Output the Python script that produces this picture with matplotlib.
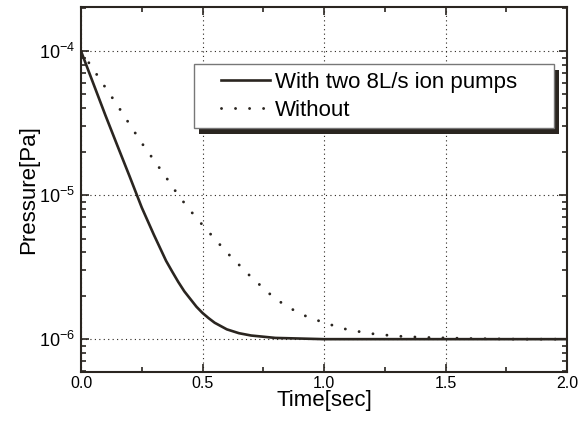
"""
Pressure decay with and without ion pumps, log scale.
"""

from matplotlib import pyplot
from matplotlib import patches
from matplotlib import ticker

# Solid curve: with two 8 L/s ion pumps
time_pumps = [0.0, 0.05, 0.1, 0.15, 0.2, 0.25, 0.3, 0.35, 0.375, 0.4, 0.425,
              0.45, 0.475, 0.5, 0.525, 0.55, 0.6, 0.65, 0.7, 0.75, 0.8, 0.9,
              1.0, 1.5, 2.0]
pressure_pumps = [1.0e-4, 6.0e-5, 3.6e-5, 2.2e-5, 1.35e-5, 8.2e-6, 5.3e-6,
                  3.5e-6, 2.95e-6, 2.5e-6, 2.15e-6, 1.9e-6, 1.68e-6, 1.52e-6,
                  1.4e-6, 1.3e-6, 1.17e-6, 1.1e-6, 1.06e-6, 1.04e-6, 1.02e-6,
                  1.01e-6, 1.0e-6, 1.0e-6, 1.0e-6]

# Dotted curve: without pumps
time_without = [0.0, 0.05, 0.1, 0.15, 0.2, 0.25, 0.3, 0.35, 0.4, 0.45, 0.5,
                0.6, 0.7, 0.8, 0.9, 1.0, 1.1, 1.2, 1.3, 1.4, 1.5, 1.6, 1.8,
                2.0]
pressure_without = [1.0e-4, 7.5e-5, 5.6e-5, 4.2e-5, 3.1e-5, 2.3e-5, 1.75e-5,
                    1.33e-5, 1.0e-5, 7.8e-6, 6.2e-6, 4.0e-6, 2.7e-6, 1.9e-6,
                    1.5e-6, 1.3e-6, 1.16e-6, 1.09e-6, 1.05e-6, 1.03e-6,
                    1.02e-6, 1.01e-6, 1.0e-6, 1.0e-6]

labels = ['With two 8L/s ion pumps', 'Without']

ink = '#2a2520'

pyplot.rcParams['font.family'] = ['Liberation Sans', 'DejaVu Sans']
pyplot.rcParams['mathtext.fontset'] = 'custom'
pyplot.rcParams['mathtext.rm'] = 'Liberation Sans'
pyplot.rcParams['mathtext.it'] = 'Liberation Sans'

fig = pyplot.figure(figsize=(5.87, 4.21), dpi=100)
ax = fig.add_axes([0.138, 0.116, 0.828, 0.867])

ax.plot(time_pumps, pressure_pumps, color=ink, lw=1.9, label=labels[0])
ax.plot(time_without, pressure_without, color=ink, lw=2.1,
        linestyle=(0, (0.01, 4.8)), dash_capstyle='round', label=labels[1])

ax.set_yscale('log')
ax.set_xlim(0, 2.0)
ax.set_ylim(5.9e-7, 2.02e-4)

ax.xaxis.set_major_locator(ticker.MultipleLocator(0.5))
ax.xaxis.set_minor_locator(ticker.MultipleLocator(0.25))
ax.xaxis.set_major_formatter(ticker.FormatStrFormatter('%.1f'))
ax.yaxis.set_major_locator(ticker.LogLocator(base=10, numticks=10))
ax.yaxis.set_minor_locator(ticker.LogLocator(base=10, subs=range(2, 10),
                                             numticks=20))
ax.yaxis.set_minor_formatter(ticker.NullFormatter())

ax.tick_params(which='both', direction='in', top=True, right=True,
               color=ink, width=1.2)
ax.tick_params(which='major', length=6)
ax.tick_params(which='minor', length=3.5)
ax.tick_params(axis='x', labelsize=11.5, pad=3)
ax.tick_params(axis='y', labelsize=13, pad=4)

for spine in ax.spines.values():
    spine.set_linewidth(1.5)
    spine.set_color(ink)

ax.grid(True, which='major', color=ink, linestyle=(0, (1, 3)), lw=0.8)

ax.set_xlabel('Time[sec]', fontsize=16, labelpad=-1)
ax.set_ylabel('Pressure[Pa]', fontsize=16, labelpad=0)

# Legend box with a solid drop shadow, drawn in axes coordinates
box_x, box_y, box_w, box_h = 0.2325, 0.668, 0.7405, 0.176
ax.add_patch(patches.Rectangle((box_x + 0.011, box_y - 0.015), box_w, box_h,
                               transform=ax.transAxes, facecolor=ink,
                               edgecolor='none', zorder=4))
ax.add_patch(patches.Rectangle((box_x, box_y), box_w, box_h,
                               transform=ax.transAxes, facecolor='white',
                               edgecolor='#777777', lw=1.0, zorder=4.5))

legend = ax.legend(loc='center left', bbox_to_anchor=(box_x + 0.055,
                                                      box_y + box_h / 2),
                   fontsize=16, handlelength=2.2, handletextpad=0.25,
                   labelspacing=0.32, borderpad=0, borderaxespad=0,
                   frameon=False)
legend.set_zorder(5)

fig.savefig('out.png', dpi=100)
